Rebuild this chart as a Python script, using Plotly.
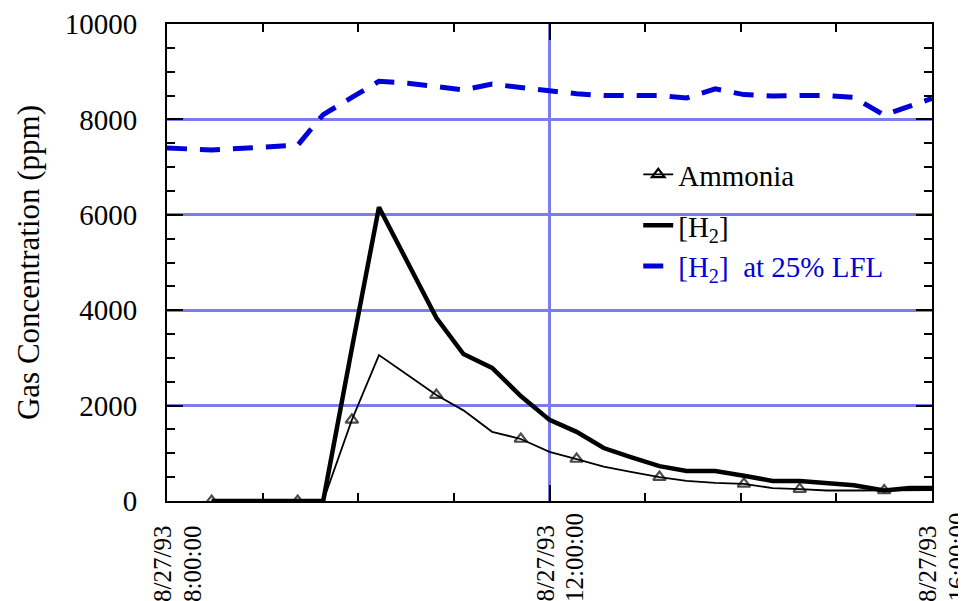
import plotly.graph_objects as go

DAY = "1993-08-27 "

# shared sample times
times = ["08:28", "09:22", "09:38", "09:56", "10:13", "10:31", "10:49", "11:06",
         "11:24", "11:42", "12:00", "12:17", "12:34", "12:51", "13:09", "13:26",
         "13:44", "14:02", "14:20", "14:37", "14:54", "15:11", "15:30", "15:46", "16:00"]

ammonia = [0, 0, 0, 1700, 3060, 2640, 2220, 1900, 1450, 1300, 1030, 880, 720, 610,
           500, 420, 380, 360, 270, 250, 220, 220, 220, 230, 230]
ammonia_marked = [1, 1, 0, 1, 0, 0, 1, 0, 0, 1, 0, 1, 0, 0, 1, 0, 0, 1, 0, 1, 0, 0, 1, 0, 0]

h2 = [0, 0, 0, 3200, 6160, 5000, 3840, 3080, 2790, 2200, 1700, 1450, 1110, 920,
      730, 630, 630, 530, 420, 420, 380, 330, 220, 270, 270]

lfl_times = ["08:00", "08:28", "09:22", "09:38", "09:56", "10:13", "10:31", "10:49",
             "11:06", "11:24", "11:42", "12:00", "12:17", "12:34", "12:51", "13:09",
             "13:26", "13:44", "14:02", "14:20", "14:37", "14:54", "15:11", "15:30", "16:00"]
lfl = [7400, 7360, 7460, 8100, 8460, 8800, 8760, 8680, 8620, 8740, 8660, 8600,
       8540, 8500, 8500, 8500, 8450, 8640, 8520, 8490, 8500, 8500, 8460, 8090, 8440]

x_tick_times = ["08:00", "12:00", "16:00"]
x_tick_dates = ["8/27/93", "8/27/93", "8/27/93"]
x_tick_clock = ["8:00:00", "12:00:00", "16:00:00"]

NB = "\u00a0"

t = [DAY + s for s in times]
tl = [DAY + s for s in lfl_times]
tick_x = [DAY + s for s in x_tick_times]

GRID = "#7c7cec"
BLUE = "#0000d8"
FONT = "Liberation Serif"

fig = go.Figure()

# Ammonia data (markers only on some samples)
fig.add_trace(go.Scatter(
    x=t, y=ammonia, name="Ammonia", mode="lines+markers", showlegend=False,
    line=dict(color="black", width=1.8),
    marker=dict(symbol="triangle-up-open", color="black",
                size=[11 if m else 0 for m in ammonia_marked],
                line=dict(width=2.2, color="black")),
))
# legend entry for Ammonia (no data)
fig.add_trace(go.Scatter(
    x=[None], y=[None], name="Ammonia", mode="lines+markers", legend="legend",
    line=dict(color="black", width=1.8),
    marker=dict(symbol="triangle-up-open", color="black", size=11,
                line=dict(width=2.2, color="black")),
))
fig.add_trace(go.Scatter(
    x=t, y=h2, name="[H<sub>2</sub>]", mode="lines", legend="legend2",
    line=dict(color="black", width=4.5),
))
fig.add_trace(go.Scatter(
    x=tl, y=lfl, name="<span style='color:" + BLUE + "'>[H<sub>2</sub>]" + NB + " at 25% LFL</span>",
    mode="lines", legend="legend2",
    line=dict(color=BLUE, width=5, dash="20px,13px"),
))

legend_common = dict(xanchor="left", yanchor="top", bgcolor="rgba(0,0,0,0)",
                     font=dict(family=FONT, size=29, color="black"), tracegroupgap=0)

# x tick labels: two rotated lines per tick, aligned at their start
annotations = []
for tx, d, c in zip(tick_x, x_tick_dates, x_tick_clock):
    for txt, dx in ((d, -5), (c, 25)):
        annotations.append(dict(
            x=tx, xref="x", y=0, yref="paper", text=txt, showarrow=False,
            textangle=-90, xanchor="center", yanchor="bottom",
            xshift=dx, yshift=-102, borderpad=0,
            font=dict(family=FONT, size=25, color="black"),
        ))

fig.update_layout(
    width=958, height=593,
    margin=dict(l=159, r=34, t=16, b=100, autoexpand=False),
    paper_bgcolor="white", plot_bgcolor="white",
    font=dict(family=FONT, size=29, color="black"),
    showlegend=True,
    legend=dict(x=0.616, y=0.738, **legend_common),
    legend2=dict(x=0.616, y=0.631, **legend_common),
    annotations=annotations,
)

fig.update_xaxes(
    type="date",
    automargin=False,
    range=[DAY + "08:00", DAY + "16:00"],
    tickmode="array",
    tickvals=tick_x,
    showticklabels=False,
    ticks="inside", ticklen=16, tickwidth=2, tickcolor="black",
    showline=True, linewidth=2, linecolor="black", mirror="ticks",
    showgrid=True, gridcolor=GRID, gridwidth=3,
    zeroline=False,
    minor=dict(tickmode="linear", tick0=DAY + "08:00", dtick=3600000,
               ticks="inside", ticklen=8, tickwidth=2, tickcolor="black",
               showgrid=False),
)

fig.update_yaxes(
    automargin=False,
    range=[0, 10000],
    tickmode="linear", tick0=0, dtick=2000, tickformat="d",
    ticks="inside", ticklen=16, tickwidth=2, tickcolor="black",
    showline=True, linewidth=2, linecolor="black", mirror="ticks",
    showgrid=True, gridcolor=GRID, gridwidth=3,
    zeroline=False,
    tickfont=dict(family=FONT, size=29),
    ticklabelstandoff=22,
    title=dict(text="Gas Concentration (ppm)" + NB + NB,
               font=dict(family=FONT, size=31), standoff=16),
    minor=dict(tickmode="linear", tick0=0, dtick=500,
               ticks="inside", ticklen=8, tickwidth=2, tickcolor="black",
               showgrid=False),
)

fig.write_html("out.html")
